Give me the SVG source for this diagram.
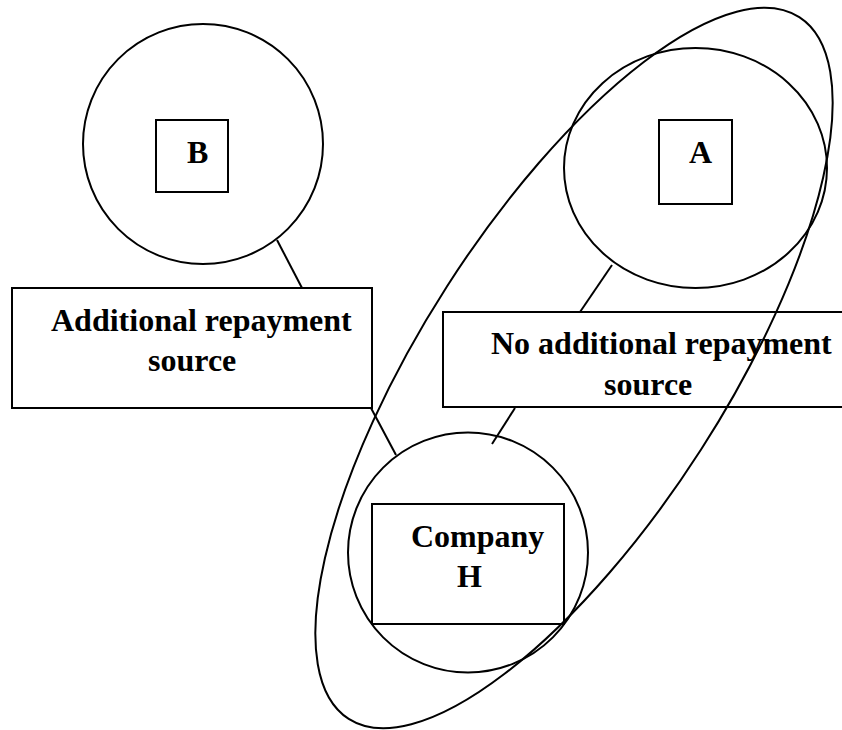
<svg xmlns="http://www.w3.org/2000/svg" width="842" height="730" viewBox="0 0 842 730">
<style>
.s{fill:none;stroke:#000;stroke-width:2}
.b{fill:#fff;stroke:#000;stroke-width:2}
.t{font-family:"Liberation Serif","Times New Roman",serif;font-weight:bold;font-size:32px;fill:#000}
</style>
<rect width="842" height="730" fill="#fff"/>
<g id="nodeB">
<circle class="s" cx="203" cy="144" r="120"/>
<rect class="s" x="156" y="120" width="72" height="72"/>
<text class="t" x="187" y="163">B</text>
</g>
<g id="nodeA">
<ellipse class="s" cx="695.5" cy="168" rx="131.5" ry="120"/>
<rect class="s" x="659" y="120" width="73" height="84"/>
<text class="t" x="689" y="163">A</text>
</g>
<g id="connectors">
<line class="s" x1="277" y1="240" x2="302" y2="288"/>
<line class="s" x1="612" y1="265" x2="580" y2="312"/>
<line class="s" x1="371" y1="408" x2="396" y2="455"/>
<line class="s" x1="515" y1="408" x2="492" y2="444"/>
</g>
<g id="boxAdd">
<rect class="b" x="12" y="288" width="360" height="120"/>
<text class="t" x="51" y="331">Additional repayment</text>
<text class="t" x="148" y="371">source</text>
</g>
<g id="boxNoAdd">
<rect class="b" x="443" y="312" width="410" height="95"/>
<text class="t" x="491" y="354">No additional repayment</text>
<text class="t" x="604" y="395">source</text>
</g>
<g id="nodeH">
<circle class="s" cx="468" cy="552.5" r="120"/>
<rect class="s" x="372" y="504" width="192" height="120"/>
<text class="t" x="411" y="547">Company</text>
<text class="t" x="457" y="587">H</text>
</g>
<g id="group">
<ellipse class="s" cx="574" cy="368" rx="417" ry="151" transform="rotate(-57.3 574 368)"/>
</g>
</svg>
